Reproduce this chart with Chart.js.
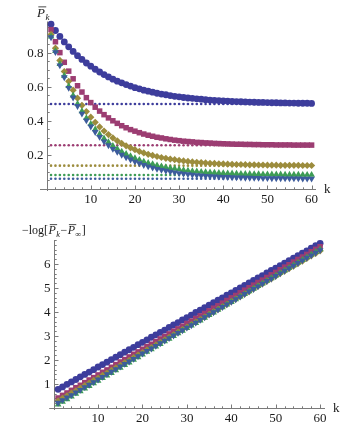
<!DOCTYPE html>
<html><head><meta charset="utf-8">
<script src="https://cdn.jsdelivr.net/npm/chart.js@4.4.1/dist/chart.umd.min.js"></script>
<style>
html,body{margin:0;padding:0;background:#fff;width:360px;height:425px;overflow:hidden}
canvas{position:absolute;left:0}
#c1{top:0}
#c2{top:212px}
</style></head><body>
<canvas id="c1" width="360" height="212"></canvas>
<canvas id="c2" width="360" height="213"></canvas>
<script>
// ---------------- data ----------------
const kValues = [1,2,3,4,5,6,7,8,9,10,11,12,13,14,15,16,17,18,19,20,21,22,23,24,25,26,27,28,29,30,
  31,32,33,34,35,36,37,38,39,40,41,42,43,44,45,46,47,48,49,50,51,52,53,54,55,56,57,58,59,60];

// top chart: P_k for five series
const pCircle = [0.969,0.932,0.897,0.865,0.836,0.809,0.784,0.762,0.741,0.722,0.704,0.688,0.673,0.659,0.646,0.634,0.624,0.614,0.605,0.596,
  0.589,0.581,0.575,0.569,0.563,0.558,0.554,0.549,0.545,0.542,0.538,0.535,0.533,0.530,0.528,0.525,0.523,0.521,0.520,0.518,
  0.517,0.515,0.514,0.513,0.512,0.511,0.510,0.509,0.509,0.508,0.507,0.507,0.506,0.506,0.505,0.505,0.504,0.504,0.504,0.503];
const pSquare = [0.937,0.866,0.802,0.745,0.693,0.648,0.607,0.570,0.537,0.508,0.481,0.458,0.437,0.418,0.401,0.386,0.372,0.360,0.349,0.340,
  0.331,0.323,0.316,0.310,0.304,0.300,0.295,0.291,0.287,0.284,0.281,0.279,0.277,0.274,0.273,0.271,0.270,0.268,0.267,0.266,
  0.265,0.264,0.263,0.263,0.262,0.262,0.261,0.261,0.260,0.260,0.260,0.259,0.259,0.259,0.259,0.258,0.258,0.258,0.258,0.258];
const pDiamond = [0.909,0.828,0.756,0.691,0.633,0.581,0.534,0.492,0.455,0.422,0.392,0.365,0.341,0.320,0.300,0.283,0.268,0.254,0.242,0.231,
  0.221,0.212,0.204,0.197,0.191,0.185,0.180,0.176,0.172,0.168,0.165,0.162,0.159,0.157,0.155,0.153,0.151,0.150,0.148,0.147,
  0.146,0.145,0.144,0.144,0.143,0.142,0.142,0.141,0.141,0.140,0.140,0.140,0.139,0.139,0.139,0.139,0.139,0.138,0.138,0.138];
const pTriUp = [0.896,0.811,0.734,0.666,0.605,0.550,0.501,0.457,0.417,0.382,0.351,0.322,0.297,0.275,0.254,0.236,0.220,0.206,0.193,0.181,
  0.171,0.161,0.153,0.146,0.139,0.133,0.128,0.123,0.119,0.115,0.111,0.108,0.105,0.103,0.101,0.099,0.097,0.096,0.094,0.093,
  0.092,0.091,0.090,0.089,0.088,0.088,0.087,0.087,0.086,0.086,0.085,0.085,0.085,0.084,0.084,0.084,0.084,0.083,0.083,0.083];
const pTriDown = [0.892,0.805,0.727,0.657,0.594,0.538,0.488,0.443,0.403,0.367,0.335,0.306,0.280,0.257,0.236,0.218,0.201,0.186,0.173,0.161,
  0.151,0.141,0.133,0.125,0.118,0.112,0.107,0.102,0.097,0.093,0.090,0.087,0.084,0.081,0.079,0.077,0.075,0.074,0.072,0.071,
  0.070,0.069,0.068,0.067,0.066,0.066,0.065,0.065,0.064,0.064,0.063,0.063,0.063,0.062,0.062,0.062,0.062,0.061,0.061,0.061];
// limiting values P_inf (dotted rows)
const pLimits = [0.5, 0.257, 0.137, 0.082, 0.06];

// bottom chart: -log[P_k - P_inf]
const lCircle = [0.78,0.88,0.99,1.09,1.19,1.30,1.40,1.50,1.60,1.71,1.81,1.91,2.02,2.12,2.22,2.33,2.43,2.53,2.64,2.74,
  2.84,2.95,3.05,3.15,3.25,3.36,3.46,3.56,3.67,3.77,3.87,3.98,4.08,4.18,4.29,4.39,4.49,4.59,4.70,4.80,
  4.90,5.01,5.11,5.21,5.32,5.42,5.52,5.63,5.73,5.83,5.93,6.04,6.14,6.24,6.35,6.45,6.55,6.66,6.76,6.86];
const lSquare = [0.42,0.53,0.63,0.74,0.85,0.95,1.06,1.17,1.27,1.38,1.49,1.59,1.70,1.81,1.92,2.02,2.13,2.24,2.34,2.45,
  2.56,2.66,2.77,2.88,2.98,3.09,3.20,3.30,3.41,3.52,3.62,3.73,3.84,3.94,4.05,4.16,4.26,4.37,4.48,4.59,
  4.69,4.80,4.91,5.01,5.12,5.23,5.33,5.44,5.55,5.65,5.76,5.87,5.97,6.08,6.19,6.29,6.40,6.51,6.61,6.72];
const lDiamond = [0.30,0.41,0.51,0.62,0.72,0.83,0.94,1.04,1.15,1.25,1.36,1.46,1.57,1.68,1.78,1.89,1.99,2.10,2.21,2.31,
  2.42,2.52,2.63,2.74,2.84,2.95,3.05,3.16,3.27,3.37,3.48,3.58,3.69,3.79,3.90,4.01,4.11,4.22,4.32,4.43,
  4.54,4.64,4.75,4.85,4.96,5.07,5.17,5.28,5.38,5.49,5.60,5.70,5.81,5.91,6.02,6.12,6.23,6.34,6.44,6.55];
const lTriUp = [0.15,0.26,0.37,0.48,0.59,0.70,0.81,0.92,1.03,1.14,1.25,1.35,1.46,1.57,1.68,1.79,1.90,2.01,2.12,2.23,
  2.34,2.45,2.56,2.67,2.78,2.89,3.00,3.11,3.22,3.33,3.44,3.54,3.65,3.76,3.87,3.98,4.09,4.20,4.31,4.42,
  4.53,4.64,4.75,4.86,4.97,5.08,5.19,5.30,5.41,5.52,5.63,5.73,5.84,5.95,6.06,6.17,6.28,6.39,6.50,6.61];
const lTriDown = [0.22,0.33,0.44,0.54,0.65,0.76,0.87,0.97,1.08,1.19,1.30,1.41,1.51,1.62,1.73,1.84,1.94,2.05,2.16,2.27,
  2.38,2.48,2.59,2.70,2.81,2.91,3.02,3.13,3.24,3.35,3.45,3.56,3.67,3.78,3.89,3.99,4.10,4.21,4.32,4.42,
  4.53,4.64,4.75,4.86,4.96,5.07,5.18,5.29,5.39,5.50,5.61,5.72,5.83,5.93,6.04,6.15,6.26,6.36,6.47,6.58];

// tick labels
const xTickLabels = [10,20,30,40,50,60];
const topYTickLabels = ['0.2','0.4','0.6','0.8'];
const bottomYTickLabels = ['1','2','3','4','5','6'];

// ---------------- styling ----------------
const COLORS = ['#3d3d9c','#9c3d72','#9c8c3d','#3d9c55','#3d5c9c'];
const AXIS = '#7a7a7a';
const TXT = '#1a1a1a';
const SERIF = '"Liberation Serif","DejaVu Serif",serif';

function pts(ys){ return kValues.map((k,i)=>({x:k,y:ys[i]})); }
function flat(v){ return kValues.map(k=>({x:k,y:v})); }

const markerStyles = [
  {pointStyle:'circle', pointRadius:3.4, rotation:0},
  {pointStyle:'rect', pointRadius:3.9, rotation:0},
  {pointStyle:'rectRot', pointRadius:3.6, rotation:0},
  {pointStyle:'triangle', pointRadius:3.9, rotation:0},
  {pointStyle:'triangle', pointRadius:3.9, rotation:180}
];

function seriesSets(list){
  // later series drawn on top (first dataset is drawn last in Chart.js)
  const sets = list.map((ys,i)=>({
    data: pts(ys),
    pointStyle: markerStyles[i].pointStyle,
    pointRadius: markerStyles[i].pointRadius,
    rotation: markerStyles[i].rotation,
    backgroundColor: COLORS[i],
    borderColor: COLORS[i],
    borderWidth: 0,
    showLine:false,
    clip:false
  }));
  return sets.reverse();
}

function richText(ctx, x, y, segs, base){
  let cx = x;
  for (const s of segs){
    const size = s.sub ? base*0.7 : base;
    ctx.font = (s.it?'italic ':'') + size + 'px ' + SERIF;
    const w = ctx.measureText(s.t).width;
    ctx.fillText(s.t, cx, y + (s.sub ? base*0.25 : 0));
    if (s.over){
      ctx.beginPath();
      ctx.lineWidth = 0.8;
      ctx.moveTo(cx + base*0.1, y - base*0.78);
      ctx.lineTo(cx + w + base*0.1, y - base*0.78);
      ctx.stroke();
    }
    cx += w + (s.gap||0);
  }
}

function axesPlugin(cfg){
  return {
    id:'mAxes',
    beforeDatasetsDraw(chart){
      const ctx = chart.ctx, xs = chart.scales.x, ys = chart.scales.y, ca = chart.chartArea;
      const ox = Math.round(xs.getPixelForValue(0)) + 0.5;
      const oy = Math.round(ys.getPixelForValue(0)) + 0.5;
      ctx.save();
      ctx.strokeStyle = AXIS; ctx.lineWidth = 1;
      ctx.beginPath();
      ctx.moveTo(ca.left, oy); ctx.lineTo(ca.right, oy);
      ctx.moveTo(ox, ca.top); ctx.lineTo(ox, ca.bottom);
      ctx.stroke();
      // x ticks (point up into plot)
      ctx.beginPath();
      for (let i = 1; i * cfg.xMinor <= xs.max; i++){
        const v = i * cfg.xMinor;
        const px = Math.round(xs.getPixelForValue(v)) + 0.5;
        const major = xTickLabels.includes(Math.round(v*1000)/1000);
        ctx.moveTo(px, oy); ctx.lineTo(px, oy - (major ? 4 : 2.2));
      }
      // y ticks (point right into plot)
      for (let i = 1; i * cfg.yMinor <= ys.max + 1e-9; i++){
        const v = Math.round(i * cfg.yMinor * 1000) / 1000;
        const py = Math.round(ys.getPixelForValue(v)) + 0.5;
        const major = cfg.yLabels.some(l => Math.abs(parseFloat(l) - v) < 1e-6);
        ctx.moveTo(ox, py); ctx.lineTo(ox + (major ? 4 : 2.2), py);
      }
      ctx.stroke();
      // labels
      ctx.fillStyle = TXT;
      ctx.font = cfg.fontSize + 'px ' + SERIF;
      ctx.textAlign = 'center'; ctx.textBaseline = 'top';
      for (const v of xTickLabels){
        ctx.fillText(String(v), xs.getPixelForValue(v), oy + 3.5);
      }
      ctx.textAlign = 'right'; ctx.textBaseline = 'middle';
      for (const l of cfg.yLabels){
        ctx.fillText(l, ox - 4, ys.getPixelForValue(parseFloat(l)) + 0.5);
      }
      // axis label k
      ctx.textAlign = 'left'; ctx.textBaseline = 'middle';
      ctx.fillText('k', ca.right + 8, oy);
      // y title
      ctx.textAlign = 'left'; ctx.textBaseline = 'alphabetic';
      ctx.strokeStyle = TXT;
      richText(ctx, cfg.titleX, cfg.titleY, cfg.title, cfg.titleSize);
      ctx.restore();
    }
  };
}

function makeChart(id, datasets, xr, yr, pad, cfg){
  return new Chart(document.getElementById(id), {
    type:'scatter',
    data:{datasets},
    options:{
      responsive:false, animation:false, devicePixelRatio:1,
      layout:{padding:pad},
      plugins:{legend:{display:false}, tooltip:{enabled:false}},
      scales:{
        x:{type:'linear', min:xr[0], max:xr[1], display:false},
        y:{type:'linear', min:yr[0], max:yr[1], display:false}
      }
    },
    plugins:[axesPlugin(cfg)]
  });
}

// top chart
const topSets = seriesSets([pCircle,pSquare,pDiamond,pTriUp,pTriDown]);
const limitSets = pLimits.map((v,i)=>({
  data: flat(v), pointStyle:'circle', pointRadius:1.3,
  backgroundColor: COLORS[i], borderColor: COLORS[i], borderWidth:0, showLine:false, clip:false
}));
makeChart('c1', topSets.concat(limitSets), [-1.5,61], [-0.012,0.985],
  {left:40, right:44, top:21.5, bottom:21},
  {xMinor:2, yMinor:0.05, yLabels:topYTickLabels, fontSize:13,
   titleX:37, titleY:17, titleSize:13,
   title:[{t:'P', it:true, over:true, gap:0.5},{t:'k', it:true, sub:true}]});

// bottom chart
const botSets = seriesSets([lCircle,lSquare,lDiamond,lTriUp,lTriDown]);
makeChart('c2', botSets, [-1,61.1], [-0.08,7.0],
  {left:49.2, right:35, top:28, bottom:15},
  {xMinor:2, yMinor:0.2, yLabels:bottomYTickLabels, fontSize:13,
   titleX:22, titleY:22, titleSize:12,
   title:[{t:'\u2212log[', gap:0.5},{t:'P', it:true, over:true, gap:0.3},{t:'k', it:true, sub:true, gap:0.5},
          {t:'\u2212', gap:0.5},{t:'P', it:true, over:true, gap:0.3},{t:'\u221e', sub:true, gap:0.5},{t:']'}]});
</script>
</body></html>
